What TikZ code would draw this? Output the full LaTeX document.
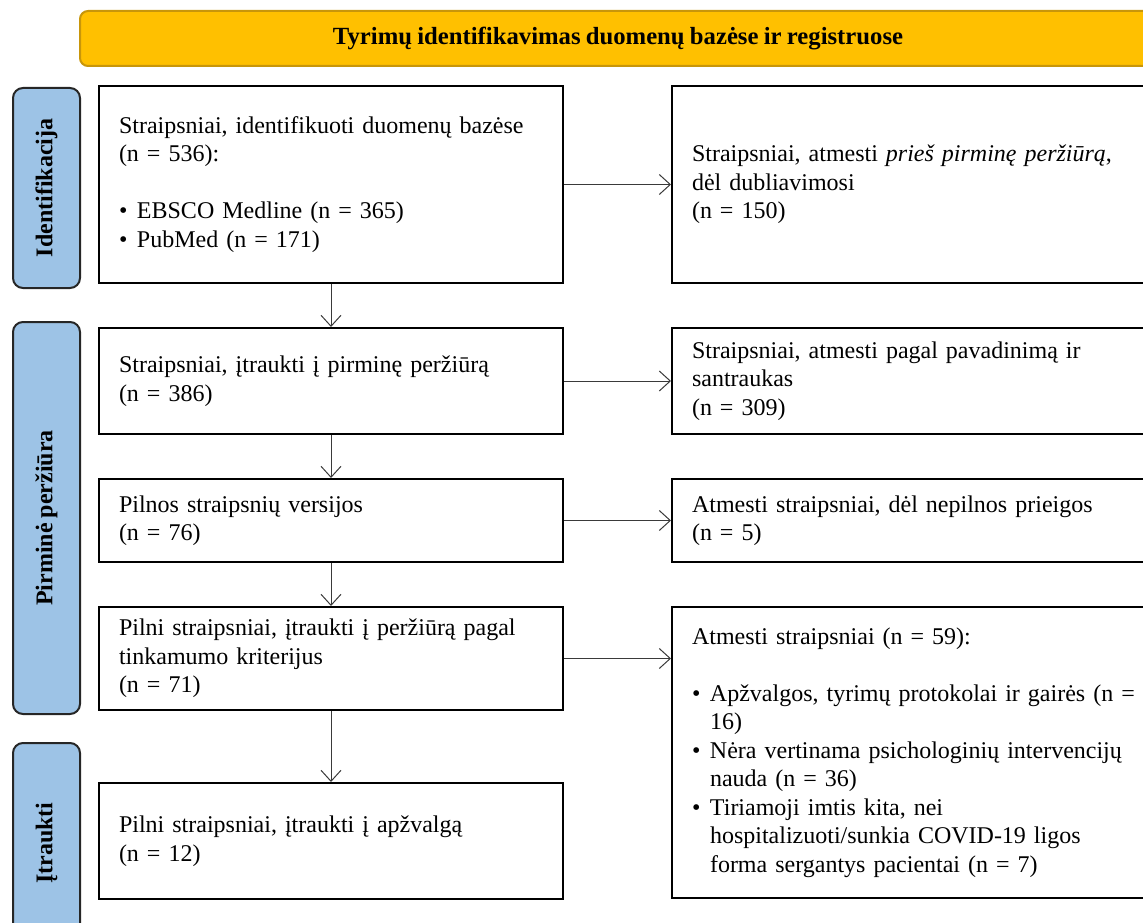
\documentclass[tikz,border=0pt]{standalone}
\usepackage{fontspec}
\setmainfont{Liberation Serif}[WordSpace=0.85]
\usetikzlibrary{arrows.meta}
\definecolor{bannerfill}{HTML}{FFC000}
\definecolor{bannerline}{HTML}{C8960A}
\definecolor{stagefill}{HTML}{9DC3E6}
\definecolor{stageline}{HTML}{262626}
\definecolor{arrowline}{HTML}{3A3A3A}
\newcommand{\bul}[1]{\makebox[18pt][l]{\textbullet}#1}
\newcommand{\cont}[1]{\hspace*{18pt}#1}

\begin{document}
\begin{tikzpicture}[x=1pt, y=-1pt, every node/.style={inner sep=0pt},
  box/.style={draw=black, line width=2pt, fill=white, anchor=north west,
    inner xsep=20pt, align=left, font=\fontsize{24}{28.5}\selectfont},
  stage/.style={draw=stageline, line width=2pt, fill=stagefill, rounded corners=10pt,
    anchor=north west, minimum width=67pt, font=\bfseries\fontsize{24}{26}\selectfont},
  flow/.style={draw=arrowline, line width=1pt, -{Straight Barb[length=11pt, width=20pt]}}]
  \useasboundingbox (0,0) rectangle (1143,923);
  \clip (0,0) rectangle (1143,923);
  % banner
  \node[draw=bannerline, line width=2pt, fill=bannerfill, rounded corners=8pt, anchor=north west,
    minimum width=1076pt, minimum height=55pt, font=\bfseries\fontsize{24.7}{26}\selectfont]
    (banner) at (79,10) {Tyrimų identifikavimas duomenų bazėse ir registruose};
  % stages
  \node[stage, minimum height=200pt] (sident) at (12,87) {\rotatebox{90}{Identifikacija}};
  \node[stage, minimum height=392pt] (sscreen) at (12,321) {\rotatebox{90}{Pirminė peržiūra}};
  \node[stage, minimum height=200pt] (sincl) at (12,742) {\rotatebox{90}{Įtraukti}};
  % left boxes
  \node[box, minimum width=464pt, minimum height=197pt, text width=424pt] (ident) at (98,85)
    {Straipsniai, identifikuoti duomenų bazėse\\(n = 536):\\[28.5pt]
     \bul{EBSCO Medline (n = 365)}\\\bul{PubMed (n = 171)}};
  \node[box, minimum width=464pt, minimum height=106pt, text width=424pt] (screen) at (98,327)
    {Straipsniai, įtraukti į pirminę peržiūrą\\(n = 386)};
  \node[box, minimum width=464pt, minimum height=83pt, text width=424pt] (full) at (98,478)
    {Pilnos straipsnių versijos\\(n = 76)};
  \node[box, minimum width=464pt, minimum height=103pt, text width=424pt] (elig) at (98,606)
    {Pilni straipsniai, įtraukti į peržiūrą pagal\\tinkamumo kriterijus\\(n = 71)};
  \node[box, minimum width=464pt, minimum height=116pt, text width=424pt] (incl) at (98,782)
    {Pilni straipsniai, įtraukti į apžvalgą\\(n = 12)};
  % right boxes
  \node[box, minimum width=484pt, minimum height=197pt, text width=444pt] (dup) at (671,85)
    {Straipsniai, atmesti \textit{prieš pirminę peržiūrą},\\dėl dubliavimosi\\(n = 150)};
  \node[box, minimum width=484pt, minimum height=106pt, text width=444pt] (excla) at (671,327)
    {Straipsniai, atmesti pagal pavadinimą ir\\santraukas\\(n = 309)};
  \node[box, minimum width=484pt, minimum height=83pt, text width=444pt] (exclb) at (671,478)
    {Atmesti straipsniai, dėl nepilnos prieigos\\(n = 5)};
  \node[box, minimum width=484pt, minimum height=291pt, text width=444pt] (exclc) at (671,606)
    {Atmesti straipsniai (n = 59):\\[28.5pt]
     \bul{Apžvalgos, tyrimų protokolai ir gairės (n =}\\\cont{16)}\\
     \bul{Nėra vertinama psichologinių intervencijų}\\\cont{nauda (n = 36)}\\
     \bul{Tiriamoji imtis kita, nei}\\\cont{hospitalizuoti/sunkia COVID-19 ligos}\\
     \cont{forma sergantys pacientai (n = 7)}};
  % arrows down
  \draw[flow] (ident) -- (screen);
  \draw[flow] (screen) -- (full);
  \draw[flow] (full) -- (elig);
  \draw[flow] (elig) -- (incl);
  % arrows right
  \draw[flow] (ident) -- (dup);
  \draw[flow] (screen) -- (excla);
  \draw[flow] (full) -- (exclb);
  \draw[flow] (elig.east) -- (elig.east -| exclc.west);
\end{tikzpicture}
\end{document}
